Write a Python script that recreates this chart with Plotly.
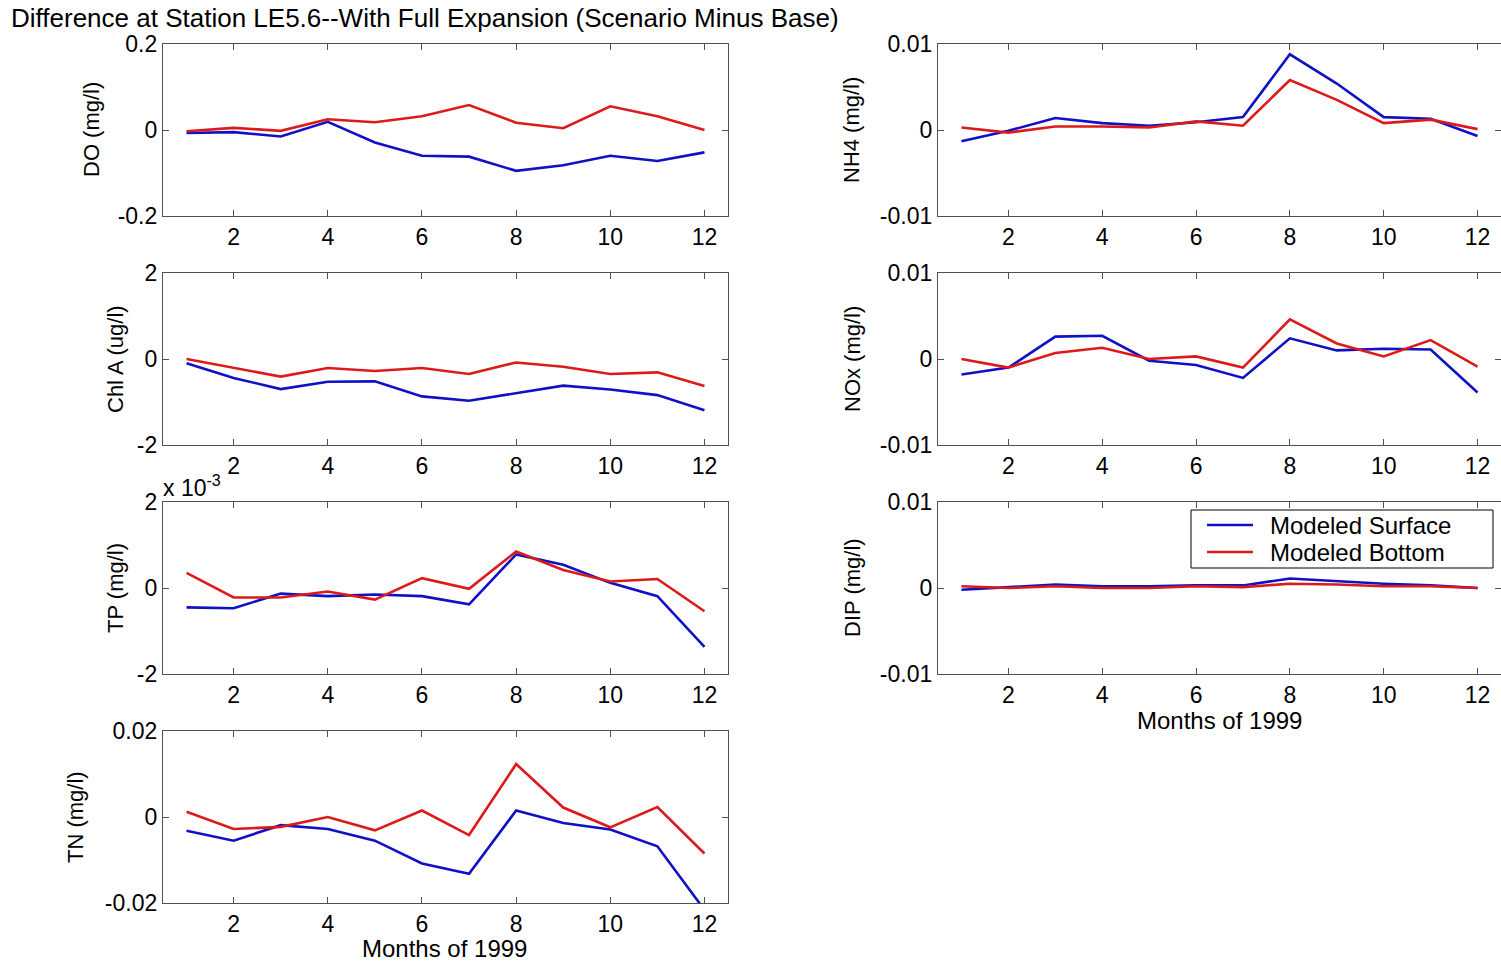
import plotly.graph_objects as go

# Monthly differences (scenario minus base) at station LE5.6, 1999
months = list(range(1, 13))

do_surface = [-0.007, -0.005, -0.015, 0.019, -0.029, -0.060, -0.062, -0.095, -0.082, -0.060, -0.072, -0.052]
do_bottom = [-0.003, 0.005, -0.002, 0.025, 0.018, 0.032, 0.058, 0.017, 0.004, 0.055, 0.032, 0.000]

nh4_surface = [-0.0013, -0.0001, 0.0014, 0.0008, 0.0005, 0.0009, 0.0015, 0.0088, 0.0054, 0.0015, 0.0013, -0.0007]
nh4_bottom = [0.0003, -0.0003, 0.0004, 0.0004, 0.0003, 0.0010, 0.0005, 0.0058, 0.0035, 0.0008, 0.0012, 0.0001]

chla_surface = [-0.10, -0.44, -0.70, -0.53, -0.52, -0.87, -0.97, -0.79, -0.62, -0.71, -0.84, -1.19]
chla_bottom = [0.00, -0.20, -0.41, -0.21, -0.28, -0.21, -0.35, -0.08, -0.18, -0.35, -0.31, -0.63]

nox_surface = [-0.0018, -0.0010, 0.0026, 0.0027, -0.0002, -0.0007, -0.0022, 0.0024, 0.0010, 0.0012, 0.0011, -0.0039]
nox_bottom = [0.0000, -0.0010, 0.0007, 0.0013, 0.0000, 0.0003, -0.0010, 0.0046, 0.0018, 0.0003, 0.0022, -0.0009]

# TP values are in units of 10^-3 mg/l
tp_surface = [-0.45, -0.47, -0.13, -0.19, -0.15, -0.19, -0.38, 0.78, 0.54, 0.12, -0.19, -1.37]
tp_bottom = [0.35, -0.22, -0.22, -0.08, -0.27, 0.23, -0.02, 0.85, 0.42, 0.15, 0.21, -0.54]

dip_surface = [-0.0002, 0.0001, 0.0004, 0.0002, 0.0002, 0.0003, 0.0003, 0.0011, 0.0008, 0.0005, 0.0003, 0.0000]
dip_bottom = [0.0002, 0.0000, 0.0002, 0.0000, 0.0000, 0.0002, 0.0001, 0.0005, 0.0004, 0.0002, 0.0002, 0.0000]

tn_surface = [-0.0032, -0.0055, -0.0019, -0.0028, -0.0055, -0.0108, -0.0132, 0.0015, -0.0014, -0.0029, -0.0068, -0.0216]
tn_bottom = [0.0012, -0.0028, -0.0023, 0.0000, -0.0031, 0.0015, -0.0042, 0.0123, 0.0022, -0.0024, 0.0023, -0.0085]

month_ticks = [2, 4, 6, 8, 10, 12]
series_names = ["Modeled Surface", "Modeled Bottom"]

W, H = 1501, 962
FONT = "Liberation Sans, Arial, Helvetica, sans-serif"
BLUE = "#1010c4"
RED = "#dc1a1a"
AXIS = "#505050"
TICK = 23

# pixel boxes of the panels: (left, right), (top, bottom)
cols = {0: (163, 728), 1: (938, 1501)}
rows = {0: (44, 216), 1: (273, 445), 2: (502, 674), 3: (731, 903)}

panels = [
    dict(label="DO (mg/l)", s=do_surface, b=do_bottom, rng=0.2,
         ticks=["-0.2", "0", "0.2"], col=0, row=0, lx=92),
    dict(label="NH4 (mg/l)", s=nh4_surface, b=nh4_bottom, rng=0.01,
         ticks=["-0.01", "0", "0.01"], col=1, row=0, lx=852),
    dict(label="Chl A (ug/l)", s=chla_surface, b=chla_bottom, rng=2,
         ticks=["-2", "0", "2"], col=0, row=1, lx=115),
    dict(label="NOx (mg/l)", s=nox_surface, b=nox_bottom, rng=0.01,
         ticks=["-0.01", "0", "0.01"], col=1, row=1, lx=852),
    dict(label="TP (mg/l)", s=tp_surface, b=tp_bottom, rng=2,
         ticks=["-2", "0", "2"], col=0, row=2, lx=115),
    dict(label="DIP (mg/l)", s=dip_surface, b=dip_bottom, rng=0.01,
         ticks=["-0.01", "0", "0.01"], col=1, row=2, lx=852),
    dict(label="TN (mg/l)", s=tn_surface, b=tn_bottom, rng=0.02,
         ticks=["-0.02", "0", "0.02"], col=0, row=3, lx=75),
]

fig = go.Figure()
annotations = []
shapes = []

for i, p in enumerate(panels, start=1):
    xl, xr = cols[p["col"]]
    yt, yb = rows[p["row"]]
    xa = "x" if i == 1 else f"x{i}"
    ya = "y" if i == 1 else f"y{i}"
    fig.add_trace(go.Scatter(x=months, y=p["s"], mode="lines", name=series_names[0],
                             line=dict(color=BLUE, width=2.6), xaxis=xa, yaxis=ya,
                             showlegend=False))
    fig.add_trace(go.Scatter(x=months, y=p["b"], mode="lines", name=series_names[1],
                             line=dict(color=RED, width=2.6), xaxis=xa, yaxis=ya,
                             showlegend=False))
    axis_common = dict(showline=True, linecolor=AXIS, linewidth=1.2, mirror="ticks",
                       ticks="inside", ticklen=6, tickcolor=AXIS, showgrid=False,
                       zeroline=False, automargin=False,
                       tickfont=dict(family=FONT, size=TICK, color="black"))
    fig.layout[("xaxis" if i == 1 else f"xaxis{i}")] = dict(
        domain=[xl / W, xr / W], range=[0.5, 12.5], anchor=ya,
        tickvals=month_ticks, ticktext=[str(t) for t in month_ticks], **axis_common)
    r = p["rng"]
    fig.layout[("yaxis" if i == 1 else f"yaxis{i}")] = dict(
        domain=[1 - yb / H, 1 - yt / H], range=[-r, r], anchor=xa,
        tickvals=[-r, 0, r], ticktext=p["ticks"], **axis_common)
    annotations.append(dict(x=p["lx"] / W, y=1 - (yt + yb) / 2 / H, xref="paper", yref="paper",
                            text=p["label"], textangle=-90, showarrow=False,
                            font=dict(family=FONT, size=22, color="black"),
                            xanchor="center", yanchor="middle"))

# title, axis titles and the exponent label of the TP panel
annotations += [
    dict(x=9 / W, y=1 - 18 / H, xref="paper", yref="paper", xanchor="left", yanchor="middle",
         text="Difference at Station LE5.6--With Full Expansion (Scenario Minus Base)",
         showarrow=False, font=dict(family=FONT, size=26, color="black")),
    dict(x=445 / W, y=1 - 948 / H, xref="paper", yref="paper", xanchor="center", yanchor="middle",
         text="Months of 1999", showarrow=False, font=dict(family=FONT, size=24, color="black")),
    dict(x=1219 / W, y=1 - 720 / H, xref="paper", yref="paper", xanchor="center", yanchor="middle",
         text="Months of 1999", showarrow=False, font=dict(family=FONT, size=24, color="black")),
    dict(x=161 / W, y=1 - 486 / H, xref="paper", yref="paper", xanchor="left", yanchor="middle",
         text="x 10<sup>-3</sup>", showarrow=False, font=dict(family=FONT, size=TICK, color="black")),
]

# legend box inside the DIP panel
shapes.append(dict(type="rect", xref="paper", yref="paper",
                   x0=1191 / W, x1=1493 / W, y0=1 - 568 / H, y1=1 - 510 / H,
                   line=dict(color="black", width=1), fillcolor="white", layer="above"))
for name, color, ypx in [(series_names[0], BLUE, 525), (series_names[1], RED, 552)]:
    shapes.append(dict(type="line", xref="paper", yref="paper",
                       x0=1207 / W, x1=1253 / W, y0=1 - ypx / H, y1=1 - ypx / H,
                       line=dict(color=color, width=2.6), layer="above"))
    annotations.append(dict(x=1268 / W, y=1 - ypx / H, xref="paper", yref="paper",
                            xanchor="left", yanchor="middle", text=name, showarrow=False,
                            font=dict(family=FONT, size=24, color="black")))

fig.update_layout(
    width=W, height=H,
    margin=dict(l=0, r=0, t=0, b=0, autoexpand=False),
    paper_bgcolor="white", plot_bgcolor="white",
    annotations=annotations,
    shapes=shapes,
    showlegend=False,
)

fig.write_html("out.html")
